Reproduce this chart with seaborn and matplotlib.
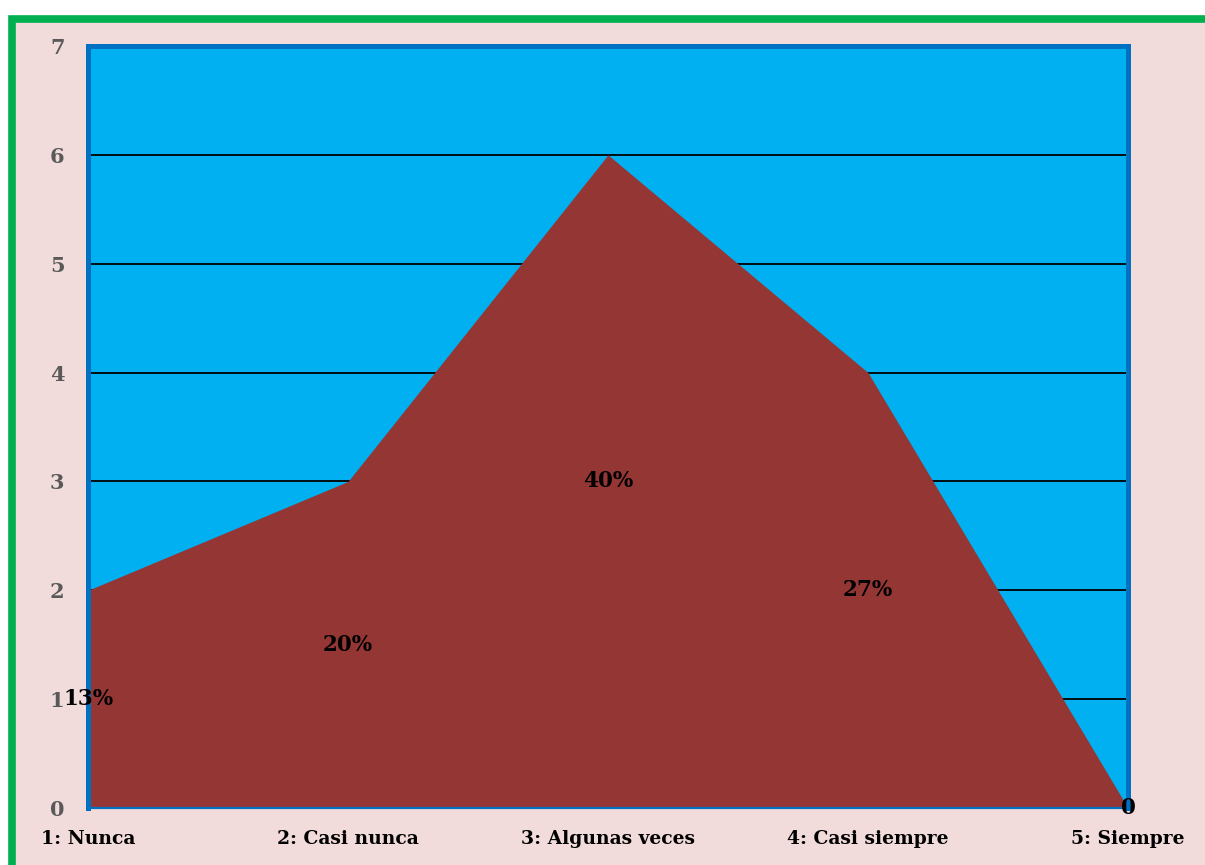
import pandas as pd
import matplotlib.pyplot as plt
import seaborn as sns
from matplotlib.patches import Rectangle

categories = ["1: Nunca", "2: Casi nunca", "3: Algunas veces", "4: Casi siempre", "5: Siempre"]
counts = [2, 3, 6, 4, 0]
pct_labels = ["13%", "20%", "40%", "27%", "0"]

df = pd.DataFrame({"pos": range(len(categories)), "count": counts})

sns.set_style("white")
plt.rcParams["font.family"] = ["DejaVu Serif"]
plt.rcParams["font.weight"] = "bold"

fig = plt.figure(figsize=(12.05, 8.65), dpi=100, facecolor="white")
# pink panel with green frame
fig.patches.append(Rectangle((11.5 / 1205, -0.05), 1.1, 1 - 18.5 / 865 + 0.05,
                             transform=fig.transFigure, facecolor="#F2DCDB",
                             edgecolor="#00B050", linewidth=5.5, zorder=-1))

ax = fig.add_axes([88 / 1205, 57 / 865, 1040 / 1205, 762 / 865])
ax.set_zorder(1)
ax.set_facecolor("#00B0F0")

sns.lineplot(data=df, x="pos", y="count", ax=ax, color="#943634", linewidth=0, zorder=3)
ax.fill_between(df["pos"], df["count"], color="#943634", zorder=3, linewidth=0)

for x, y, t in zip(df["pos"], df["count"], pct_labels):
    ax.text(x, y / 2, t, ha="center", va="center", fontsize=15.5, fontweight="bold",
            color="black", zorder=5)

ax.set_xlim(0, 4)
ax.set_ylim(0, 7)
ax.set_yticks(range(0, 8))
ax.set_xticks(df["pos"])
ax.set_xticklabels(categories)
ax.yaxis.grid(True, color="black", linewidth=1.3)
ax.set_axisbelow(True)
ax.tick_params(axis="y", length=0, pad=17, labelsize=15, labelcolor="#595959")
ax.tick_params(axis="x", length=0, pad=16, labelsize=13.5, labelcolor="black")
for lab in ax.get_xticklabels() + ax.get_yticklabels():
    lab.set_fontweight("bold")
ax.set_xlabel("")
ax.set_ylabel("")

for side in ["left", "top", "right"]:
    ax.spines[side].set_color("#0070C0")
    ax.spines[side].set_linewidth(3.6)
    ax.spines[side].set_zorder(4)
ax.spines["bottom"].set_color("#0070C0")
ax.spines["bottom"].set_linewidth(1.6)
ax.spines["bottom"].set_zorder(4)

fig.savefig("out.png", dpi=100, facecolor=fig.get_facecolor())
